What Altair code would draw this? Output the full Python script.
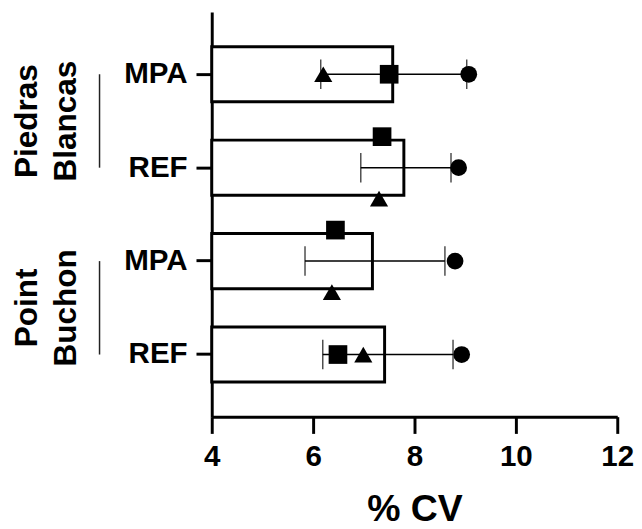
import altair as alt
import pandas as pd

# ---- data ----
categories = ["Piedras Blancas|MPA", "Piedras Blancas|REF", "Point Buchon|MPA", "Point Buchon|REF"]
bar_mean = [7.57, 7.79, 7.17, 7.41]
err_low = [6.15, 6.94, 5.84, 6.19]
err_high = [9.03, 8.72, 8.60, 8.76]
triangle_vals = [6.20, 7.30, 6.37, 6.99]
square_vals = [7.50, 7.36, 6.44, 6.49]
circle_vals = [9.07, 8.87, 8.80, 8.93]
triangle_lane = ["mid", "low", "low", "mid"]
square_lane = ["mid", "high", "high", "mid"]
circle_lane = ["mid", "mid", "mid", "mid"]
group_labels = ["Piedras\nBlancas", "Point\nBuchon"]
group_first = ["Piedras Blancas|MPA", "Point Buchon|MPA"]
group_last = ["Piedras Blancas|REF", "Point Buchon|REF"]
x_ticks = [4, 6, 8, 10, 12]

FONT = "Liberation Sans"

bars = pd.DataFrame({"cat": categories, "mean": bar_mean, "lo": err_low, "hi": err_high})
pts = pd.concat([
    pd.DataFrame({"cat": categories, "v": triangle_vals, "lane": triangle_lane, "series": "triangle"}),
    pd.DataFrame({"cat": categories, "v": square_vals, "lane": square_lane, "series": "square"}),
    pd.DataFrame({"cat": categories, "v": circle_vals, "lane": circle_lane, "series": "circle"}),
])
groups = pd.DataFrame({"label": group_labels, "first": group_first, "last": group_last})

xscale = alt.Scale(domain=[4, 12], nice=False, zero=False)
yscale = alt.Scale(domain=categories, paddingInner=0.336, paddingOuter=0.333)

xaxis = alt.Axis(values=x_ticks, title="% CV", grid=False, labelFontSize=30, labelFontWeight="bold",
                 titleFontSize=38, titleFontWeight="bold", tickSize=17, tickWidth=3, domainWidth=3,
                 domainColor="black", tickColor="black", labelColor="black", titleColor="black",
                 labelPadding=9, titlePadding=20, labelFlush=False, labelFont=FONT, titleFont=FONT)
yaxis = alt.Axis(title=None, labelExpr="split(datum.label, '|')[1]", labelFontSize=30,
                 labelFontWeight="bold", tickSize=16, tickWidth=3, domainWidth=3, domainColor="black",
                 tickColor="black", labelColor="black", labelPadding=9, grid=False, labelFont=FONT)

base_bar = alt.Chart(bars)

bar_layer = base_bar.mark_bar(size=56, fill="white", stroke="black", strokeWidth=3).encode(
    x=alt.X("mean:Q", scale=xscale, axis=xaxis),
    x2=alt.datum(4),
    y=alt.Y("cat:N", scale=yscale, axis=yaxis, sort=categories),
)

err_line = base_bar.mark_rule(color="black", strokeWidth=1.5).encode(
    x=alt.X("lo:Q", scale=xscale), x2="hi:Q",
    y=alt.Y("cat:N", scale=yscale, sort=categories),
)
cap_lo = base_bar.mark_tick(color="black", size=30, thickness=1.5, orient="vertical").encode(
    x=alt.X("lo:Q", scale=xscale), y=alt.Y("cat:N", scale=yscale, sort=categories),
)
cap_hi = base_bar.mark_tick(color="black", size=30, thickness=1.5, orient="vertical").encode(
    x=alt.X("hi:Q", scale=xscale), y=alt.Y("cat:N", scale=yscale, sort=categories),
)

shape_sizes = {"triangle": 340, "square": 360, "circle": 290}
point_layers = []
for s, shp in [("triangle", "triangle-up"), ("square", "square"), ("circle", "circle")]:
    point_layers.append(
        alt.Chart(pts[pts["series"] == s]).mark_point(shape=shp, filled=True, color="black", opacity=1,
                                                        size=shape_sizes[s]).encode(
            x=alt.X("v:Q", scale=xscale),
            y=alt.Y("cat:N", scale=yscale, sort=categories),
            yOffset=alt.YOffset("lane:N", scale=alt.Scale(domain=["high", "mid", "low"], paddingInner=0, paddingOuter=0)),
        )
    )

group_rule = alt.Chart(groups).mark_rule(color="#222222", strokeWidth=1.5).encode(
    x=alt.value(-114),
    y=alt.Y("first:N", scale=yscale, sort=categories, bandPosition=0.5),
    y2=alt.Y2("last:N", bandPosition=0.5),
)
group_text = alt.Chart(groups).mark_text(angle=270, lineBreak="\n", fontSize=32, fontWeight="bold",
                                         font=FONT, color="black", align="center", baseline="middle",
                                         lineHeight=40, yOffset=47.5).encode(
    x=alt.value(-188),
    y=alt.Y("first:N", scale=yscale, sort=categories),
    text="label:N",
)

chart = alt.layer(bar_layer, err_line, cap_lo, cap_hi, *point_layers, group_rule, group_text).properties(
    width=412, height=411, padding={"left": 2, "top": 0, "right": 0, "bottom": 0}
).configure(font=FONT).configure_view(stroke=None)

chart.save("out.html", embed_options={"renderer": "svg", "actions": False})
